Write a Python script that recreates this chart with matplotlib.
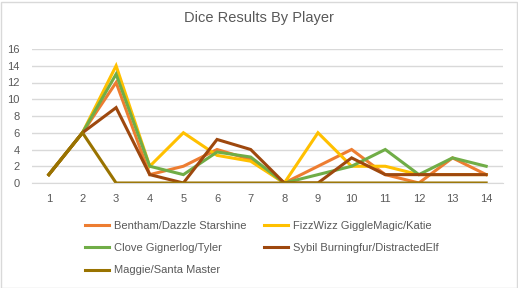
import matplotlib.pyplot as plt
from matplotlib.patches import Rectangle

rolls = list(range(1, 15))

bentham = [1, 6, 12, 1, 2, 4, 2.8, 0, 2, 4, 1, 0, 3, 1]
fizzwizz = [1, 6, 14, 2, 6, 3.3, 2.6, 0, 6, 2, 2, 1, 1, 1]
clove = [1, 6, 13, 2, 1, 3.7, 3.1, 0, 1, 2, 4, 1, 3, 2]
sybil = [1, 6, 9, 1, 0, 5.2, 4, 0, 0, 3, 1, 1, 1, 1]
maggie = [1, 6, 0, 0, 0, 0, 0, 0, 0, 0, 0, 0, 0, 0]

names = ['Bentham/Dazzle Starshine', 'FizzWizz GiggleMagic/Katie',
         'Clove Gignerlog/Tyler', 'Sybil Burningfur/DistractedElf',
         'Maggie/Santa Master']
colors = ['#ED7D31', '#FFC000', '#70AD47', '#9E480E', '#997300']

plt.rcParams['font.family'] = ['Liberation Sans', 'DejaVu Sans']

fig = plt.figure(figsize=(5.18, 2.88), dpi=100)
ax = fig.add_axes([32 / 518, 1 - 183 / 288, 471 / 518, 134 / 288])

lines = []
for vals, name, c in zip([bentham, fizzwizz, clove, sybil, maggie], names, colors):
    ln, = ax.plot(rolls, vals, color=c, linewidth=2.2, label=name, solid_joinstyle='miter')
    lines.append(ln)

ax.set_xlim(0.5, 14.5)
ax.set_ylim(0, 16)
ax.set_xticks(rolls)
ax.set_yticks(range(0, 17, 2))
ax.grid(axis='y', color='#D9D9D9', linewidth=1)
ax.set_axisbelow(True)
for s in ['top', 'right', 'left']:
    ax.spines[s].set_visible(False)
ax.spines['bottom'].set_color('#D9D9D9')
ax.tick_params(length=0, labelsize=8, labelcolor='#595959')
ax.tick_params(axis='x', pad=8)
ax.tick_params(axis='y', pad=9)

fig.text(0.5, 1 - 18 / 288, 'Dice Results By Player', ha='center', va='center',
         fontsize=10.5, color='#595959')

order = [0, 2, 4, 1, 3]
fig.legend([lines[i] for i in order], [names[i] for i in order], ncol=2,
           loc='upper left', bbox_to_anchor=(85 / 518, 1 - 221 / 288),
           frameon=False, fontsize=8, handlelength=2.2, handletextpad=0.45,
           labelspacing=1.1, columnspacing=1.5, borderpad=0, borderaxespad=0,
           labelcolor='#595959')

fig.patches.append(Rectangle((0.5 / 518, 0.5 / 288), 516 / 518, 286 / 288,
                             transform=fig.transFigure, fill=False,
                             edgecolor='#D9D9D9', linewidth=1))

fig.savefig('out.png', dpi=100)
